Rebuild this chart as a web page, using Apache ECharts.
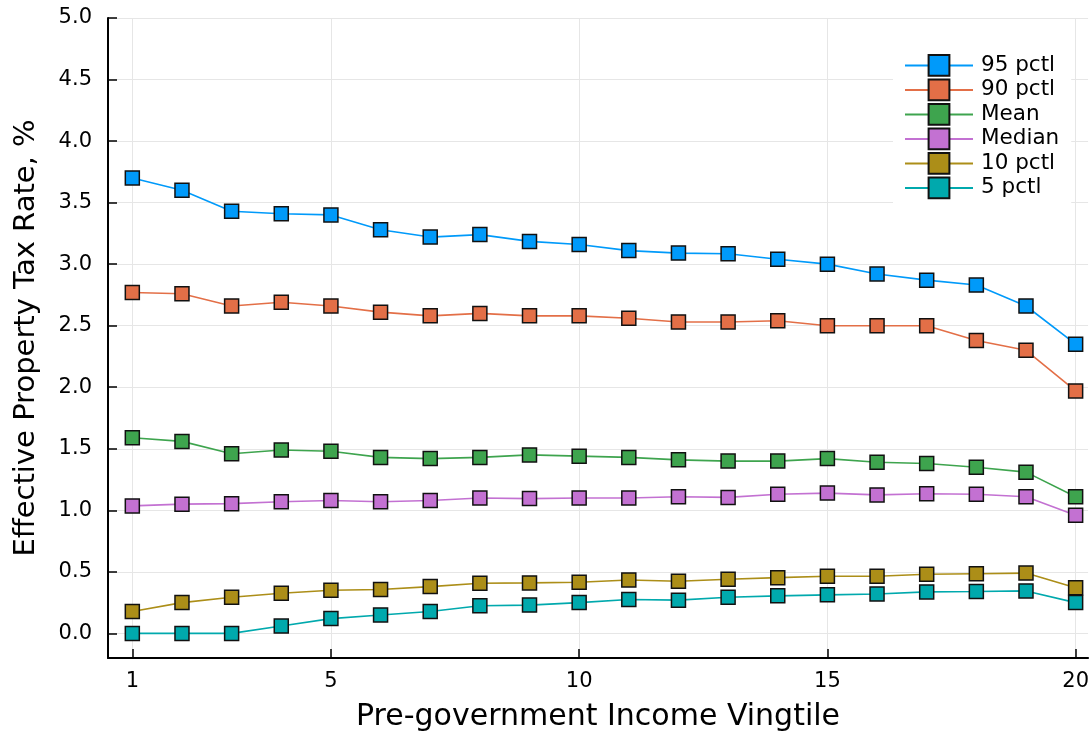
<!DOCTYPE html>
<html>
<head>
<meta charset="utf-8">
<script src="https://cdn.jsdelivr.net/npm/echarts@6/dist/echarts.min.js"></script>
<style>
html,body{margin:0;padding:0;background:#fff;}
#chart{width:1092px;height:737px;}
</style>
</head>
<body>
<div id="chart"></div>
<script>
const vingtiles = [1,2,3,4,5,6,7,8,9,10,11,12,13,14,15,16,17,18,19,20];
const p95 = [3.70,3.60,3.43,3.41,3.40,3.28,3.22,3.24,3.185,3.16,3.11,3.09,3.085,3.04,3.00,2.92,2.87,2.83,2.66,2.35];
const p90 = [2.77,2.76,2.66,2.69,2.66,2.61,2.58,2.60,2.58,2.58,2.56,2.53,2.53,2.54,2.50,2.50,2.50,2.38,2.30,1.97];
const meanV = [1.59,1.56,1.46,1.49,1.48,1.43,1.42,1.43,1.45,1.44,1.43,1.41,1.40,1.40,1.42,1.39,1.38,1.35,1.31,1.11];
const medianV = [1.036,1.05,1.054,1.07,1.08,1.07,1.08,1.10,1.095,1.10,1.10,1.11,1.105,1.13,1.14,1.125,1.135,1.13,1.11,0.96];
const p10 = [0.178,0.25,0.294,0.326,0.35,0.356,0.38,0.407,0.41,0.415,0.434,0.423,0.44,0.453,0.464,0.464,0.48,0.485,0.49,0.37];
const p05 = [0,0,0,0.06,0.12,0.15,0.178,0.224,0.23,0.25,0.275,0.27,0.294,0.305,0.313,0.32,0.337,0.34,0.345,0.25];

const seriesNames = ['95 pctl','90 pctl','Mean','Median','10 pctl','5 pctl'];
const seriesData = [p95,p90,meanV,medianV,p10,p05];
const colors = ['#009AFA','#E36F47','#3EA44E','#C371D2','#AC8E18','#00A9AD'];
const xTicks = [1,5,10,15,20];
const yTicks = [0,0.5,1.0,1.5,2.0,2.5,3.0,3.5,4.0,4.5,5.0];

const FONT = 'DejaVu Sans';
const chart = echarts.init(document.getElementById('chart'), null, {renderer:'canvas'});
const option = {
  backgroundColor:'#ffffff',
  animation:false,
  textStyle:{fontFamily:FONT},
  grid:{left:108, top:18, right:0, bottom:76, containLabel:false},
  legend:{
    orient:'vertical', left:893, top:40,
    backgroundColor:'#ffffff',
    padding:[14,12,10,11],
    itemWidth:68, itemHeight:26, itemGap:1.7,
    textStyle:{fontFamily:FONT, fontSize:21.5, color:'#000', padding:[0,0,0,3]},
    data:seriesNames
  },
  xAxis:{
    type:'value', min:0.51, max:20.25,
    name:'Pre-government Income Vingtile', nameLocation:'middle', nameGap:44,
    nameTextStyle:{fontFamily:FONT, fontSize:30, color:'#000'},
    axisLine:{show:true, onZero:false, lineStyle:{color:'#000', width:2}},
    axisTick:{show:true, inside:true, length:9, customValues:xTicks, lineStyle:{color:'#000', width:1.5}},
    axisLabel:{customValues:xTicks, fontFamily:FONT, fontSize:21, color:'#000', margin:13},
    splitLine:{show:true, lineStyle:{color:'#e6e6e6', width:1}}
  },
  yAxis:{
    type:'value', min:-0.2, max:5.0,
    name:'Effective Property Tax Rate, %', nameLocation:'middle', nameGap:67, nameRotate:90,
    nameTextStyle:{fontFamily:FONT, fontSize:29, color:'#000'},
    axisLine:{show:true, onZero:false, lineStyle:{color:'#000', width:2}},
    axisTick:{show:true, inside:true, length:9, customValues:yTicks, lineStyle:{color:'#000', width:1.5}},
    axisLabel:{customValues:yTicks, fontFamily:FONT, fontSize:21, color:'#000', margin:16,
      formatter:function(v){return v.toFixed(1);}},
    splitLine:{show:true, lineStyle:{color:'#e6e6e6', width:1}}
  },
  series: seriesNames.map(function(name,i){
    return {
      name:name, type:'line',
      data: vingtiles.map(function(x,j){return [x, seriesData[i][j]];}),
      symbol:'rect', symbolSize:14,
      lineStyle:{color:colors[i], width:1.6},
      itemStyle:{color:colors[i], borderColor:'#111', borderWidth:1.5},
      emphasis:{disabled:true}
    };
  })
};
chart.setOption(option);
</script>
</body>
</html>
